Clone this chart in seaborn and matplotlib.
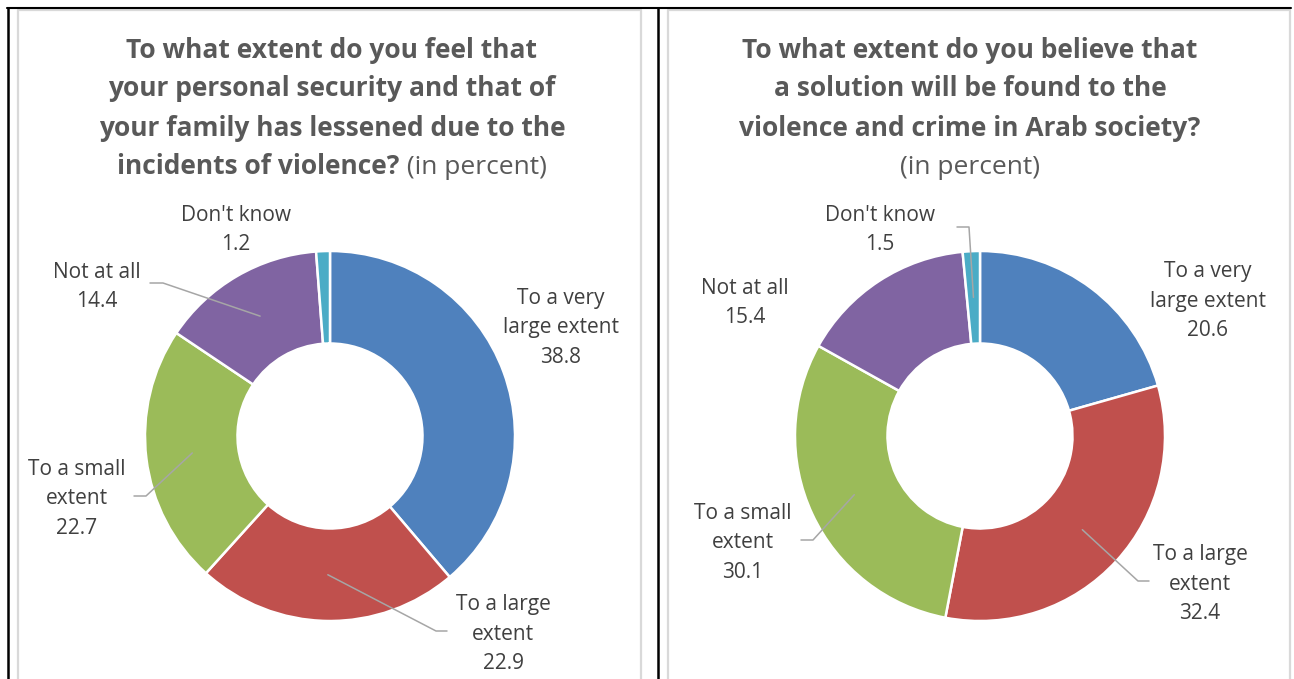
import numpy as np
import matplotlib
matplotlib.use("Agg")
import matplotlib.pyplot as plt
import seaborn as sns

# ---------------- data ----------------
categories = ["To a very\nlarge extent", "To a large\nextent", "To a small\nextent",
              "Not at all", "Don't know"]
values_left = [38.8, 22.9, 22.7, 14.4, 1.2]
values_right = [20.6, 32.4, 30.1, 15.4, 1.5]
colors = ["#4F81BD", "#C0504D", "#9BBB59", "#8064A2", "#4BACC6"]

title_left_lines = [
    [("To what extent do you feel that", "bold")],
    [("your personal security and that of", "bold")],
    [("your family has lessened due to the", "bold")],
    [("incidents of violence?", "bold"), (" (in percent)", "normal")],
]
title_right_lines = [
    [("To what extent do you believe that", "bold")],
    [("a solution will be found to the", "bold")],
    [("violence and crime in Arab society?", "bold")],
    [("(in percent)", "normal")],
]

# ---------------- layout (pixels) ----------------
W, H = 1294, 679
R = 185.0
CY = 436.0
centers_x = [330.0, 980.0]
panel_x = [(18, 641), (668, 1290)]
title_cx = [332, 970]
title_y = [50, 89, 128, 167]

# label text centres (px) per chart, per category
label_pos = [
    [(561, 328), (503, 634), (77, 499), (97, 287), (236, 230)],
    [(1208, 301), (1200, 584), (743, 543), (745, 303), (880, 230)],
]
# leader elbows: list of (elbow, end) or None
leaders = [
    [None, ((436, 631), (447, 631)), ((146, 496), (134, 496)), ((163, 283), (150, 283)), None],
    [None, ((1138, 581), (1149, 581)), ((813, 540), (801, 540)), None, ((969, 227), (957, 227))],
]

sns.set_theme(style="white")
plt.rcParams['font.family'] = ['Open Sans', 'DejaVu Sans']

fig = plt.figure(figsize=(W / 100, H / 100), dpi=100)
bg = fig.add_axes([0, 0, 1, 1])
bg.set_xlim(0, W)
bg.set_ylim(H, 0)
bg.axis("off")

# panel frames
for (x0, x1) in panel_x:
    bg.plot([x0, x0, x1, x1], [H + 5, 10, 10, H + 5], color="#D9D9D9", lw=1.6, zorder=1)
# black table lines
bg.plot([7, 1291], [8, 8], color="black", lw=1.5, zorder=2)
bg.plot([8, 8], [8, H + 5], color="black", lw=1.8, zorder=2)
bg.plot([658, 658], [8, H + 5], color="black", lw=1.8, zorder=2)

# pies
for i, vals in enumerate([values_left, values_right]):
    cx = centers_x[i]
    x0, x1 = panel_x[i]
    ax = fig.add_axes([x0 / W, 0, (x1 - x0) / W, (H - 190) / H])
    ax.pie(vals, startangle=90, counterclock=False, colors=colors, radius=1.0,
           wedgeprops=dict(width=0.5, edgecolor="white", linewidth=1.8))
    ax.set_aspect("auto")
    ax.set_xlim((x0 - cx) / R, (x1 - cx) / R)
    ax.set_ylim(-(H - CY) / R, (CY - 190) / R)
    ax.axis("off")

# overlay for labels, leaders and titles
ov = fig.add_axes([0, 0, 1, 1])
ov.set_xlim(0, W)
ov.set_ylim(H, 0)
ov.axis("off")
ov.patch.set_alpha(0)

for i, vals in enumerate([values_left, values_right]):
    cx = centers_x[i]
    cum = np.cumsum([0] + list(vals))
    total = cum[-1]
    for j, cat in enumerate(categories):
        mid = (cum[j] + cum[j + 1]) / 2 / total
        ang = np.deg2rad(90 - 360 * mid)
        sx = cx + 0.75 * R * np.cos(ang)
        sy = CY - 0.75 * R * np.sin(ang)
        ld = leaders[i][j]
        if ld is not None:
            (ex, ey), (tx, ty) = ld
            ov.plot([sx, ex, tx], [sy, ey, ty], color="#A6A6A6", lw=1.1, zorder=5)
        lx, ly = label_pos[i][j]
        ov.text(lx, ly, f"{cat}\n{vals[j]:.1f}", ha="center", va="center",
                fontsize=15, color="#404040", linespacing=1.52, zorder=6)

# titles with mixed weight
fig.canvas.draw()
renderer = fig.canvas.get_renderer()
for cxT, lines in zip(title_cx, [title_left_lines, title_right_lines]):
    for ly, segs in zip(title_y, lines):
        arts = []
        for txt, wt in segs:
            t = ov.text(0, ly, txt, ha="left", va="center", fontsize=19,
                        fontweight=wt, color="#595959")
            arts.append(t)
        widths = [t.get_window_extent(renderer).width for t in arts]
        total_w = sum(widths)
        x = cxT - total_w / 2
        for t, w in zip(arts, widths):
            t.set_x(x)
            x += w

fig.savefig("out.png", dpi=100)
